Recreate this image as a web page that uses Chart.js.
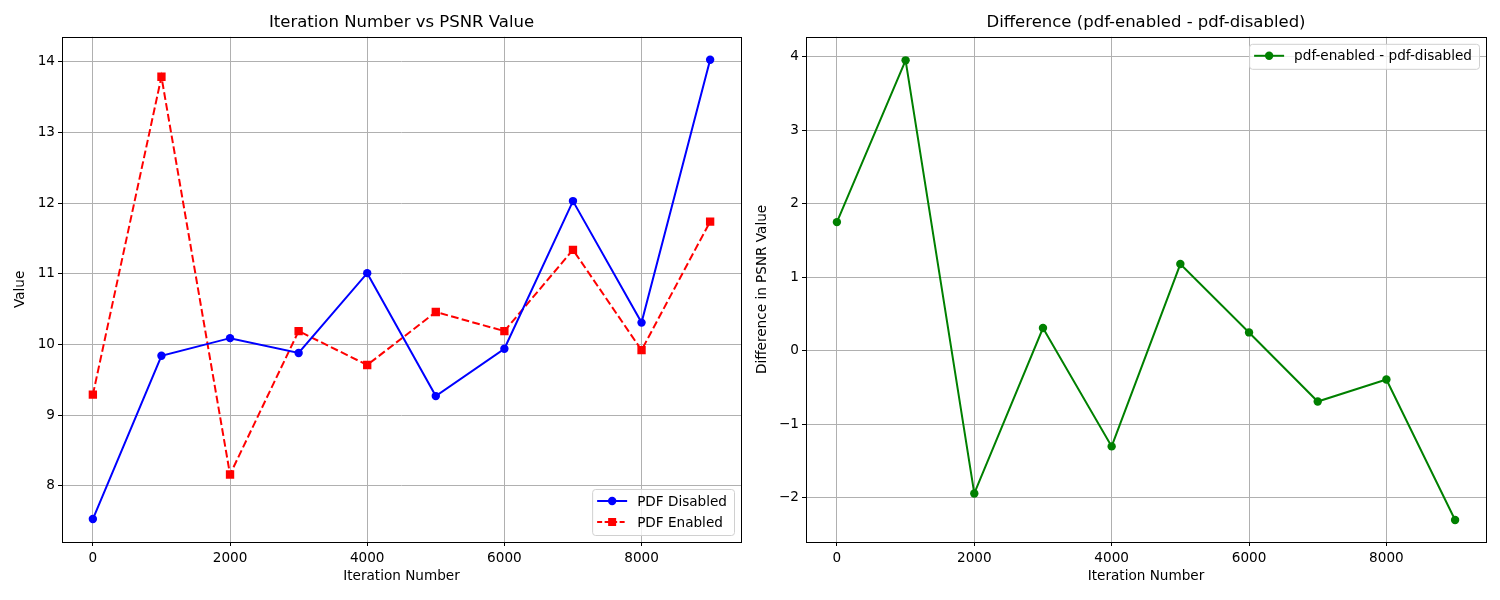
<!DOCTYPE html>
<html>
<head>
<meta charset="utf-8">
<script src="https://cdn.jsdelivr.net/npm/chart.js@4"></script>
<style>
  body { margin: 0; background: #fff; }
  #wrap { position: relative; width: 1500px; height: 600px; }
  canvas { position: absolute; top: 0; }
</style>
</head>
<body>
<div id="wrap">
  <canvas id="leftChart" width="750" height="600" style="left:0"></canvas>
  <canvas id="rightChart" width="750" height="600" style="left:750px"></canvas>
</div>
<script>
'use strict';

// data
let iterations = [0, 1000, 2000, 3000, 4000, 5000, 6000, 7000, 8000, 9000];
let pdfDisabled = [7.53, 9.84, 10.09, 9.88, 11.01, 9.27, 9.94, 12.03, 10.31, 14.03];
let pdfEnabled = [9.29, 13.79, 8.16, 10.19, 9.71, 10.46, 10.19, 11.34, 9.92, 11.74];
let difference = [1.75, 3.95, -1.94, 0.31, -1.30, 1.18, 0.25, -0.69, -0.39, -2.30];
let xTicks = [0, 2000, 4000, 6000, 8000];
let leftYTicks = [8, 9, 10, 11, 12, 13, 14];
let rightYTicks = [-2, -1, 0, 1, 2, 3, 4];

const FONT = 'DejaVu Sans';
const TXT = 13.6;
Chart.defaults.font.family = FONT;
Chart.defaults.color = '#000';

function points(ys) {
    let out = [];
    for (let i = 0; i < iterations.length; i++) {
        out.push({ x: iterations[i], y: ys[i] });
    }
    return out;
}

function fixedTicks(list) {
    return function (scale) {
        scale.ticks = list.map(v => ({ value: v }));
    };
}

// black frame round the plot + legend drawn inside the plot area
let framePlugin = {
    id: 'frame',
    afterDraw(chart, args, opts) {
        let ctx = chart.ctx;
        let a = chart.chartArea;
        ctx.save();
        ctx.strokeStyle = '#000';
        ctx.lineWidth = 1;
        ctx.strokeRect(Math.round(a.left) + 0.5, Math.round(a.top) + 0.5,
            Math.round(a.right - a.left), Math.round(a.bottom - a.top));

        let items = opts.items;
        if (!items) { ctx.restore(); return; }
        ctx.font = TXT + 'px "' + FONT + '"';
        let textW = Math.max(...items.map(it => ctx.measureText(it.label).width));
        let rowH = 21;
        let boxW = 45 + textW + 7;
        let boxH = items.length * rowH + 4;
        let bx = a.right - 7 - boxW;
        let by = opts.corner === 'bottomRight' ? a.bottom - 7 - boxH : a.top + 7;
        ctx.fillStyle = 'rgba(255,255,255,0.8)';
        ctx.strokeStyle = '#d0d0d0';
        ctx.beginPath();
        ctx.roundRect(bx + 0.5, by + 0.5, boxW, boxH, 3);
        ctx.fill();
        ctx.stroke();

        items.forEach((it, i) => {
            let cy = by + 12 + i * rowH;
            let x0 = bx + 5, x1 = bx + 35;
            ctx.strokeStyle = it.color;
            ctx.lineWidth = 2;
            ctx.setLineDash(it.dash || []);
            ctx.beginPath();
            ctx.moveTo(x0, cy);
            ctx.lineTo(x1, cy);
            ctx.stroke();
            ctx.setLineDash([]);
            ctx.fillStyle = it.color;
            let mx = (x0 + x1) / 2;
            if (it.marker === 'rect') {
                ctx.fillRect(mx - 4, cy - 4, 8, 8);
            } else {
                ctx.beginPath();
                ctx.arc(mx, cy, 4.2, 0, Math.PI * 2);
                ctx.fill();
            }
            ctx.fillStyle = '#000';
            ctx.textBaseline = 'middle';
            ctx.textAlign = 'left';
            ctx.fillText(it.label, bx + 45, cy + 1);
        });
        ctx.restore();
    }
};

function axes(yTicks, yMin, yMax, yTitle, yWidth, yTitlePad, minusSign) {
    let gridCommon = {
        color: '#b0b0b0',
        lineWidth: 1,
        tickLength: 4,
        tickColor: '#000',
        tickWidth: 1
    };
    return {
        x: {
            type: 'linear',
            min: -450,
            max: 9450,
            afterBuildTicks: fixedTicks(xTicks),
            afterFit(scale) { scale.height = 58; },
            grid: gridCommon,
            border: { display: false },
            ticks: { font: { size: TXT }, padding: 4, maxRotation: 0, callback: v => String(v) },
            title: { display: true, text: 'Iteration Number', font: { size: TXT }, padding: { bottom: 15 } }
        },
        y: {
            type: 'linear',
            min: yMin,
            max: yMax,
            afterBuildTicks: fixedTicks(yTicks),
            afterFit(scale) { scale.width = yWidth; },
            grid: gridCommon,
            border: { display: false },
            ticks: {
                font: { size: TXT }, padding: 3,
                callback: v => minusSign ? String(v).replace('-', '\u2212') : String(v)
            },
            title: { display: true, text: yTitle, font: { size: TXT }, padding: { top: yTitlePad } }
        }
    };
}

function titleOpts(text) {
    return {
        display: true,
        text: text,
        fullSize: false,
        font: { size: 16.5, weight: 'normal' },
        padding: { top: 13, bottom: 4 }
    };
}

new Chart(document.getElementById('leftChart'), {
    type: 'line',
    data: {
        datasets: [{
            label: 'PDF Disabled',
            data: points(pdfDisabled),
            borderColor: 'blue',
            backgroundColor: 'blue',
            borderWidth: 2,
            pointStyle: 'circle',
            pointRadius: 4.2,
            pointBorderWidth: 0,
            tension: 0
        }, {
            label: 'PDF Enabled',
            data: points(pdfEnabled),
            borderColor: 'red',
            backgroundColor: 'red',
            borderWidth: 2,
            borderDash: [7.7, 3.3],
            pointStyle: 'rect',
            pointRadius: 5.9,
            pointBorderWidth: 0,
            tension: 0
        }]
    },
    options: {
        responsive: false,
        animation: false,
        layout: { padding: { right: 9 } },
        plugins: {
            legend: { display: false },
            tooltip: { enabled: false },
            title: titleOpts('Iteration Number vs PSNR Value'),
            frame: {
                corner: 'bottomRight',
                items: [
                    { label: 'PDF Disabled', color: 'blue', marker: 'circle' },
                    { label: 'PDF Enabled', color: 'red', marker: 'rect', dash: [5, 2.5] }
                ]
            }
        },
        scales: axes(leftYTicks, 7.205, 14.355, 'Value', 62, 12, false)
    },
    plugins: [framePlugin]
});

new Chart(document.getElementById('rightChart'), {
    type: 'line',
    data: {
        datasets: [{
            label: 'pdf-enabled - pdf-disabled',
            data: points(difference),
            borderColor: 'green',
            backgroundColor: 'green',
            borderWidth: 2,
            pointStyle: 'circle',
            pointRadius: 4.2,
            pointBorderWidth: 0,
            tension: 0
        }]
    },
    options: {
        responsive: false,
        animation: false,
        layout: { padding: { right: 14 } },
        plugins: {
            legend: { display: false },
            tooltip: { enabled: false },
            title: titleOpts('Difference (pdf-enabled - pdf-disabled)'),
            frame: {
                corner: 'topRight',
                items: [
                    { label: 'pdf-enabled - pdf-disabled', color: 'green', marker: 'circle' }
                ]
            }
        },
        scales: axes(rightYTicks, -2.6, 4.27, 'Difference in PSNR Value', 56, 4, true)
    },
    plugins: [framePlugin]
});
</script>
</body>
</html>
